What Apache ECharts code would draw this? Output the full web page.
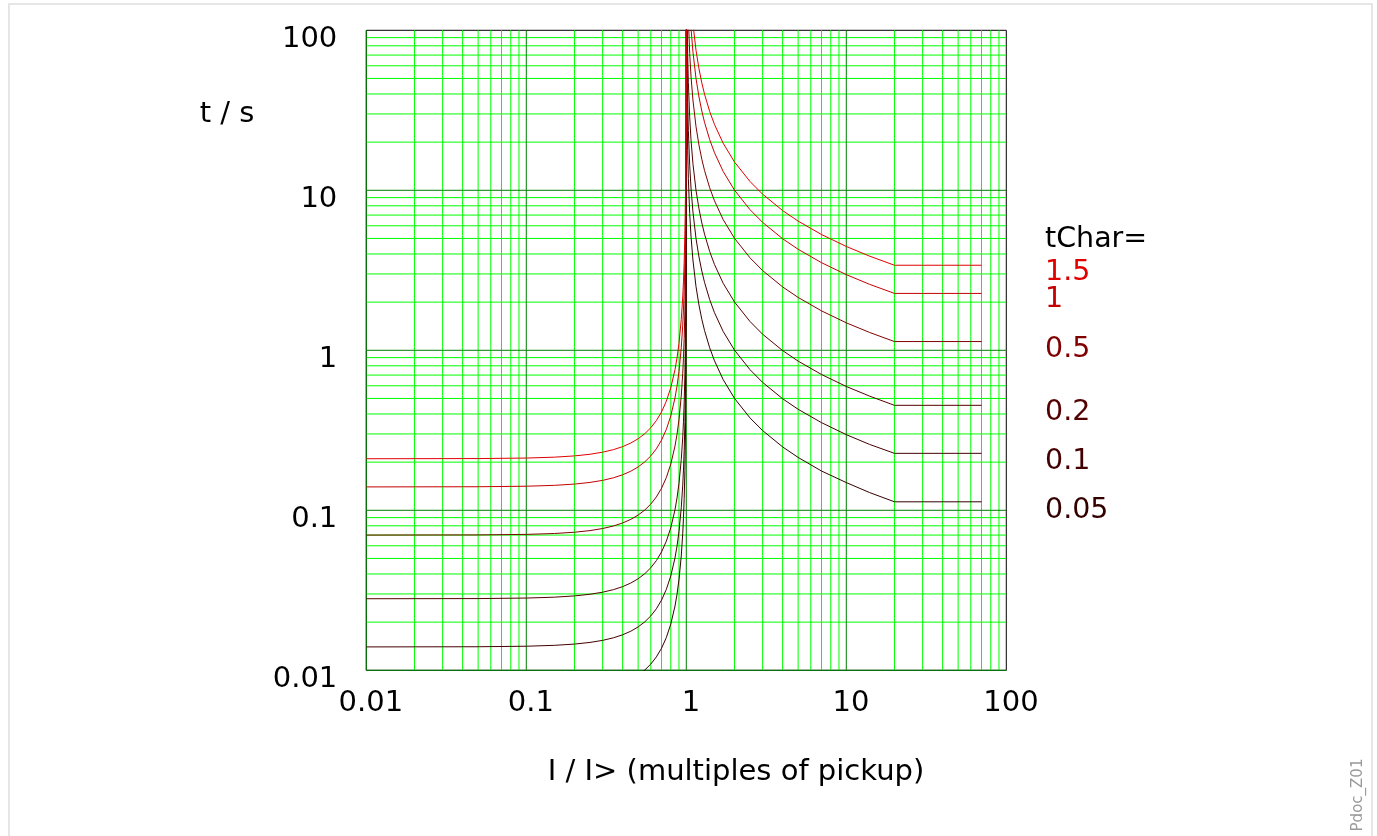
<!DOCTYPE html>
<html>
<head>
<meta charset="utf-8">
<title>tChar</title>
<script src="https://cdn.jsdelivr.net/npm/echarts@6/dist/echarts.min.js"></script>
<style>
    html, body { margin: 0; padding: 0; background: #fff; }
    #chart { width: 1377px; height: 836px; }
</style>
</head>
<body>
<div id="chart"></div>
<script>
// tick labels
const xTickLabels = ['0.01', '0.1', '1', '10', '100'];
const yTickLabels = ['0.01', '0.1', '1', '10', '100'];

// curve parameters
const tCharLabels = ['1.5', '1', '0.5', '0.2', '0.1', '0.05'];

// reset branch (I / I> below 1)
const resetCurrent = [0.01, 0.05, 0.1, 0.15, 0.2, 0.25, 0.3, 0.35, 0.4, 0.45, 0.5, 0.55, 0.6, 0.65, 0.7, 0.75, 0.8, 0.85, 0.875, 0.9, 0.93, 0.95, 0.96, 0.97, 0.98, 0.99, 0.995, 0.998, 0.999, 0.9995, 0.9999, 0.99999];
const resetTime150 = [0.21002, 0.21053, 0.21212, 0.214835, 0.21875, 0.224, 0.23077, 0.239316, 0.25, 0.263324, 0.28, 0.301076, 0.32813, 0.363636, 0.41176, 0.48, 0.58333, 0.75675, 0.896, 1.10526, 1.5544, 2.15385, 2.678571, 3.5533, 5.30303, 10.5528, 21.0526, 52.553, 105.05, 210.05, 1050.05, 10500];
const resetTime100 = [0.140014, 0.14035, 0.14141, 0.143223, 0.14583, 0.149333, 0.15385, 0.159544, 0.16667, 0.175549, 0.18667, 0.200717, 0.21875, 0.242424, 0.27451, 0.32, 0.38889, 0.5045, 0.597333, 0.73684, 1.03627, 1.4359, 1.785714, 2.36887, 3.53535, 7.03518, 14.0351, 35.035, 70.035, 140.035, 700.04, 7000];
const resetTime050 = [0.070007, 0.070175, 0.070707, 0.071612, 0.072917, 0.074667, 0.076923, 0.079772, 0.083333, 0.087775, 0.093333, 0.100359, 0.109375, 0.121212, 0.137255, 0.16, 0.194444, 0.25225, 0.298667, 0.36842, 0.51813, 0.71795, 0.892857, 1.18443, 1.76768, 3.51759, 7.01754, 17.5175, 35.0175, 70.0175, 350.02, 3500];
const resetTime020 = [0.028003, 0.02807, 0.028283, 0.028645, 0.029167, 0.029867, 0.030769, 0.031909, 0.033333, 0.03511, 0.037333, 0.040143, 0.04375, 0.048485, 0.054902, 0.064, 0.077778, 0.1009, 0.119467, 0.147368, 0.207254, 0.28718, 0.357143, 0.473774, 0.70707, 1.40704, 2.80702, 7.00701, 14.007, 28.007, 140.01, 1400];
const resetTime010 = [0.0140014, 0.014035, 0.014141, 0.014322, 0.014583, 0.014933, 0.015385, 0.015954, 0.016667, 0.017555, 0.018667, 0.020072, 0.021875, 0.024242, 0.027451, 0.032, 0.038889, 0.05045, 0.059733, 0.073684, 0.103627, 0.14359, 0.178571, 0.236887, 0.353535, 0.703518, 1.40351, 3.5035, 7.0035, 14.0035, 70.004, 700];
const resetTime005 = [0.0070007, 0.0070175, 0.0070707, 0.0071612, 0.0072917, 0.0074667, 0.0076923, 0.0079772, 0.0083333, 0.0087775, 0.0093333, 0.0100359, 0.0109375, 0.0121212, 0.0137255, 0.016, 0.0194444, 0.025225, 0.0298667, 0.036842, 0.051813, 0.071795, 0.0892857, 0.118443, 0.176768, 0.351759, 0.701754, 1.75175, 3.50175, 7.00175, 35.002, 350];

// trip branch (I / I> above 1), flat from 20 on
const tripCurrent = [1.003, 1.01, 1.02, 1.03, 1.05, 1.07, 1.1, 1.15, 1.2, 1.25, 1.3, 1.4, 1.5, 1.7, 2, 2.5, 3, 4, 5, 7, 10, 14, 20, 70];
const tripTime150 = [3505.2, 1055.1, 530.13, 355.13, 215.1, 155.09, 110.06, 75.023, 57.486, 46.95, 39.915, 31.101, 25.791, 19.683, 15.044, 11.355, 9.453, 7.47, 6.42, 5.292, 4.456, 3.875, 3.401, 3.401];
const tripTime100 = [2336.8, 703.42, 353.42, 236.75, 143.4, 103.39, 73.375, 50.015, 38.324, 31.3, 26.61, 20.734, 17.194, 13.122, 10.029, 7.5697, 6.302, 4.9797, 4.2797, 3.5277, 2.9706, 2.5831, 2.2673, 2.2673];
const tripTime050 = [1168.4, 351.71, 176.71, 118.38, 71.7, 51.7, 36.69, 25.008, 19.162, 15.65, 13.305, 10.367, 8.597, 6.561, 5.015, 3.785, 3.151, 2.49, 2.14, 1.764, 1.485, 1.292, 1.134, 1.134];
const tripTime020 = [467.36, 140.68, 70.68, 47.35, 28.68, 20.68, 14.675, 10.003, 7.665, 6.26, 5.322, 4.147, 3.439, 2.624, 2.006, 1.514, 1.26, 0.996, 0.856, 0.706, 0.594, 0.517, 0.453, 0.453];
const tripTime010 = [233.68, 70.34, 35.34, 23.675, 14.34, 10.339, 7.338, 5.002, 3.832, 3.13, 2.661, 2.073, 1.719, 1.312, 1.003, 0.757, 0.63, 0.498, 0.428, 0.353, 0.297, 0.258, 0.227, 0.227];
const tripTime005 = [116.84, 35.17, 17.67, 11.84, 7.17, 5.17, 3.669, 2.501, 1.916, 1.565, 1.331, 1.037, 0.86, 0.656, 0.501, 0.378, 0.315, 0.249, 0.214, 0.176, 0.149, 0.129, 0.113, 0.113];

let resetTimes = [resetTime150, resetTime100, resetTime050, resetTime020, resetTime010, resetTime005];
let tripTimes = [tripTime150, tripTime100, tripTime050, tripTime020, tripTime010, tripTime005];

let curveColors = ['#e00000', '#c40000', '#800000', '#550000', '#440000', '#330000'];
let labelY = [273, 300, 350, 413, 462, 511];
let fontFamily = 'DejaVu Sans';

function pairs(xs, ys) {
    return xs.map(function (x, i) {
        return [x, ys[i]];
    });
}

function tickIndex(value) {
    return Math.round(Math.log10(value)) + 2;
}

// grid line positions, 2..9 in every decade
let minorValues = [];
let majorValues = [0.01, 0.1, 1, 10];
majorValues.forEach(function (decade) {
    for (let k = 2; k <= 9; k++) {
        minorValues.push(+(decade * k).toPrecision(3));
    }
});

// one vertical + one horizontal line per value
function gridSeries(values, color, z) {
    return {
        type: 'custom',
        coordinateSystem: 'cartesian2d',
        silent: true,
        z: z,
        encode: {x: 0, y: 1},
        data: values.map(function (v) { return [v, v]; }),
        renderItem: function (params, api) {
            let p = api.coord([api.value(0), api.value(1)]);
            let tl = api.coord([0.01, 100]);
            let br = api.coord([100, 0.01]);
            let style = {stroke: color, lineWidth: 1};
            return {
                type: 'group',
                children: [
                    {type: 'line', shape: {x1: p[0], y1: tl[1], x2: p[0], y2: br[1]}, style: style},
                    {type: 'line', shape: {x1: tl[0], y1: p[1], x2: br[0], y2: p[1]}, style: style}
                ]
            };
        }
    };
}

let series = [gridSeries(minorValues, '#00ff00', 1), gridSeries(majorValues, '#008000', 2)];
for (let i = 0; i < tCharLabels.length; i++) {
    let base = {
        type: 'line',
        symbol: 'none',
        silent: true,
        clip: true,
        z: 10 - i,
        lineStyle: {color: curveColors[i], width: 1}
    };
    series.push(Object.assign({name: 'reset ' + tCharLabels[i], data: pairs(resetCurrent, resetTimes[i])}, base));
    series.push(Object.assign({name: 'trip ' + tCharLabels[i], data: pairs(tripCurrent, tripTimes[i])}, base));
}

let graphics = [
    {
        type: 'rect',
        shape: {x: 9, y: 4, width: 1363, height: 860},
        style: {fill: 'none', stroke: '#e6e6e6', lineWidth: 2},
        silent: true
    },
    {
        type: 'text', x: 227, y: 114,
        style: {text: 't / s', fontSize: 29, fontFamily: fontFamily, fill: '#000', textAlign: 'center', textVerticalAlign: 'middle'}
    },
    {
        type: 'text', x: 736, y: 772,
        style: {text: 'I / I> (multiples of pickup)', fontSize: 29, fontFamily: fontFamily, fill: '#000', textAlign: 'center', textVerticalAlign: 'middle'}
    },
    {
        type: 'text', x: 1045, y: 240,
        style: {text: 'tChar=', fontSize: 28.5, fontFamily: fontFamily, fill: '#000', textAlign: 'left', textVerticalAlign: 'middle'}
    },
    {
        type: 'text', x: 1358, y: 795, rotation: Math.PI / 2,
        style: {text: 'Pdoc_Z01', fontSize: 15, fontFamily: fontFamily, fill: '#999', textAlign: 'center', textVerticalAlign: 'middle'}
    }
];
tCharLabels.forEach(function (label, i) {
    graphics.push({
        type: 'text', x: 1045, y: labelY[i],
        style: {text: label, fontSize: 28.5, fontFamily: fontFamily, fill: curveColors[i], textAlign: 'left', textVerticalAlign: 'middle'}
    });
});

let chartDom = document.getElementById('chart');
let myChart = echarts.init(chartDom, null, {renderer: 'canvas'});

let option = {
    animation: false,
    backgroundColor: '#fff',
    grid: {
        left: 366.3,
        top: 30.3,
        width: 640,
        height: 640,
        show: true,
        borderColor: '#000',
        borderWidth: 1,
        backgroundColor: 'transparent'
    },
    xAxis: {
        type: 'log',
        logBase: 10,
        min: 0.01,
        max: 100,
        axisLine: {show: false},
        axisTick: {show: false},
        splitLine: {show: false},
        minorSplitLine: {show: false},
        axisLabel: {
            margin: 19,
            fontSize: 29,
            fontFamily: fontFamily,
            color: '#000',
            formatter: function (value) {
                return ' ' + (xTickLabels[tickIndex(value)] || '');
            }
        }
    },
    yAxis: {
        type: 'log',
        logBase: 10,
        min: 0.01,
        max: 100,
        axisLine: {show: false},
        axisTick: {show: false},
        splitLine: {show: false},
        minorSplitLine: {show: false},
        axisLabel: {
            margin: 29,
            fontSize: 29,
            lineHeight: 18,
            fontFamily: fontFamily,
            color: '#000',
            formatter: function (value) {
                return '\n' + (yTickLabels[tickIndex(value)] || '');
            }
        }
    },
    graphic: graphics,
    series: series
};

myChart.setOption(option);
</script>
</body>
</html>
